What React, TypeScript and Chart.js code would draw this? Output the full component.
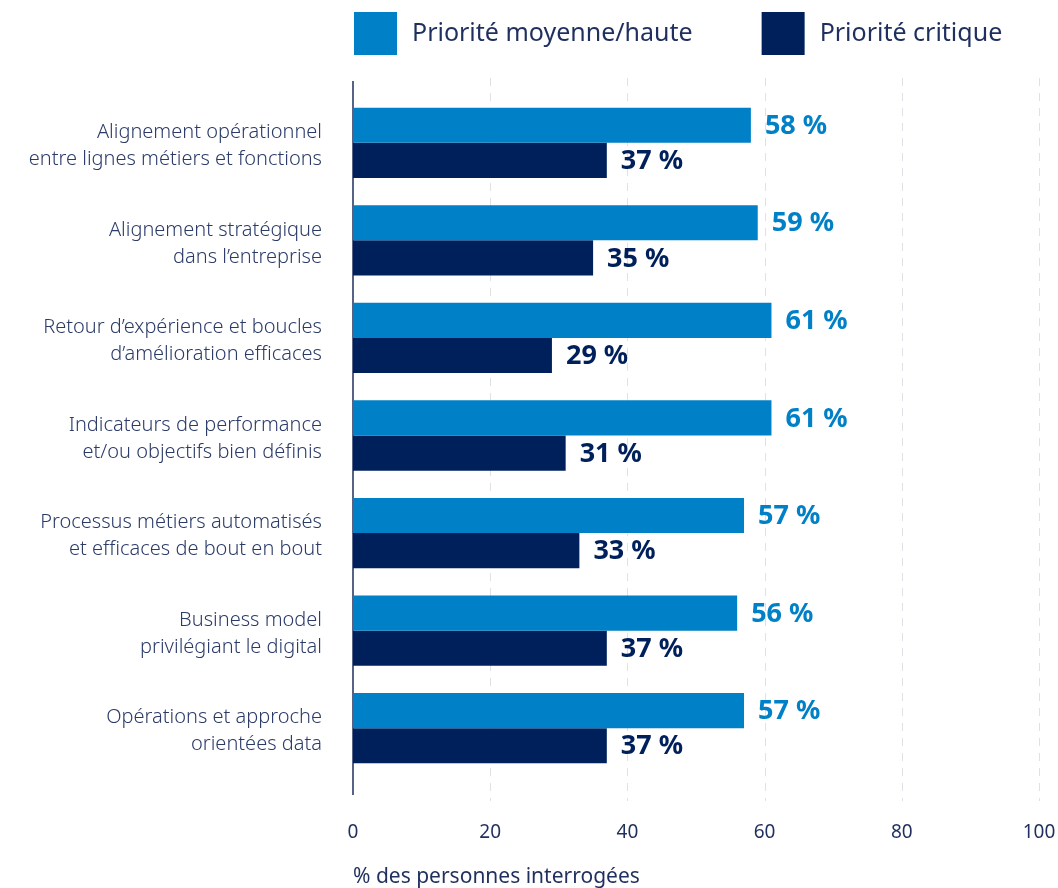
import React, { useEffect, useRef } from 'react';
import { Chart, registerables } from 'chart.js';

Chart.register(...registerables);

const categories: string[][] = [
  ['Alignement opérationnel', 'entre lignes métiers et fonctions'],
  ['Alignement stratégique', 'dans l’entreprise'],
  ['Retour d’expérience et boucles', 'd’amélioration efficaces'],
  ['Indicateurs de performance', 'et/ou objectifs bien définis'],
  ['Processus métiers automatisés', 'et efficaces de bout en bout'],
  ['Business model', 'privilégiant le digital'],
  ['Opérations et approche', 'orientées data'],
];
const seriesNames = ['Priorité moyenne/haute', 'Priorité critique'];
const mediumHigh = [58, 59, 61, 61, 57, 56, 57];
const critical = [37, 35, 29, 31, 33, 37, 37];
const xTicks = [0, 20, 40, 60, 80, 100];
const xAxisTitle = '% des personnes interrogées';

const BLUE = '#0080c6';
const NAVY = '#00205b';
const TEXT = '#1f2f5e';
const LABEL = '#2b3b68';
const FONT = '"Noto Sans", "DejaVu Sans", sans-serif';

const gridPlugin = {
  id: 'extendedGrid',
  beforeDatasetsDraw(chart: any) {
    const { ctx, chartArea, scales } = chart;
    const x = scales.x;
    const top = chartArea.top - 16;
    const bottom = chartArea.bottom + 24;
    ctx.save();
    ctx.strokeStyle = '#dfe1e6';
    ctx.lineWidth = 1;
    ctx.setLineDash([8, 7]);
    xTicks.slice(1).forEach((v) => {
      const px = Math.round(x.getPixelForValue(v)) + 0.5;
      ctx.beginPath();
      ctx.moveTo(px, top);
      ctx.lineTo(px, bottom);
      ctx.stroke();
    });
    ctx.setLineDash([]);
    ctx.strokeStyle = TEXT;
    ctx.lineWidth = 1.5;
    const ax = x.getPixelForValue(0);
    ctx.beginPath();
    ctx.moveTo(ax, top + 3);
    ctx.lineTo(ax, bottom - 6);
    ctx.stroke();
    ctx.restore();
  },
};

const valueLabelPlugin = {
  id: 'valueLabels',
  afterDatasetsDraw(chart: any) {
    const { ctx } = chart;
    ctx.save();
    ctx.font = `bold 27px ${FONT}`;
    ctx.textBaseline = 'middle';
    ctx.textAlign = 'left';
    chart.data.datasets.forEach((ds: any, di: number) => {
      const meta = chart.getDatasetMeta(di);
      ctx.fillStyle = ds.labelColor;
      meta.data.forEach((bar: any, i: number) => {
        ctx.fillText(`${ds.data[i]} %`, bar.x + 14, bar.y + 1);
      });
    });
    ctx.restore();
  },
};

const legendPlugin = {
  id: 'topLegend',
  afterDraw(chart: any) {
    const { ctx, chartArea } = chart;
    ctx.save();
    ctx.font = `25px ${FONT}`;
    ctx.textBaseline = 'middle';
    ctx.textAlign = 'left';
    const size = 43;
    const y = 12;
    let x = chartArea.left + 1;
    chart.data.datasets.forEach((ds: any) => {
      ctx.fillStyle = ds.backgroundColor;
      ctx.fillRect(x, y, size, size);
      const tx = x + size + 15;
      ctx.fillStyle = TEXT;
      ctx.fillText(ds.label, tx, y + size / 2);
      x = tx + ctx.measureText(ds.label).width + 69;
    });
    ctx.restore();
  },
};

export default function App() {
  const canvasRef = useRef<HTMLCanvasElement | null>(null);

  useEffect(() => {
    if (!canvasRef.current) return;
    const chart = new Chart(canvasRef.current, {
      type: 'bar',
      data: {
        labels: categories,
        datasets: [
          {
            label: seriesNames[0],
            data: mediumHigh,
            backgroundColor: BLUE,
            labelColor: BLUE,
            categoryPercentage: 0.72,
            barPercentage: 1,
          } as any,
          {
            label: seriesNames[1],
            data: critical,
            backgroundColor: NAVY,
            labelColor: NAVY,
            categoryPercentage: 0.72,
            barPercentage: 1,
          } as any,
        ],
      },
      options: {
        indexAxis: 'y',
        animation: false,
        responsive: true,
        maintainAspectRatio: false,
        layout: { padding: { top: 94, right: 2, bottom: 0, left: 0 } },
        plugins: {
          legend: { display: false },
          tooltip: { enabled: false },
        },
        scales: {
          x: {
            min: 0,
            max: 100,
            afterBuildTicks: (s: any) => {
              s.ticks = xTicks.map((v) => ({ value: v }));
            },
            afterFit: (s: any) => {
              s.height = 111;
              s.paddingRight = 19;
              s.paddingLeft = 0;
            },
            grid: { display: false },
            border: { display: false },
            ticks: {
              padding: 36,
              maxRotation: 0,
              color: TEXT,
              font: { family: FONT, size: 19 },
            },
            title: {
              display: true,
              text: xAxisTitle,
              align: 'start',
              color: TEXT,
              font: { family: FONT, size: 21 },
              padding: { top: 0, bottom: -2 },
            },
          },
          y: {
            grid: { display: false, drawTicks: false },
            border: { display: false },
            afterFit: (s: any) => {
              s.width = 353;
            },
            ticks: {
              padding: 31,
              labelOffset: 3,
              color: LABEL,
              font: { family: FONT, size: 20, weight: 300, lineHeight: 1.35 },
            },
          },
        },
      },
      plugins: [gridPlugin, valueLabelPlugin, legendPlugin],
    });
    return () => chart.destroy();
  }, []);

  return (
    <div style={{ position: 'absolute', left: 0, top: 0, width: 1058, height: 888, background: '#ffffff' }}>
      <canvas ref={canvasRef} />
    </div>
  );
}
